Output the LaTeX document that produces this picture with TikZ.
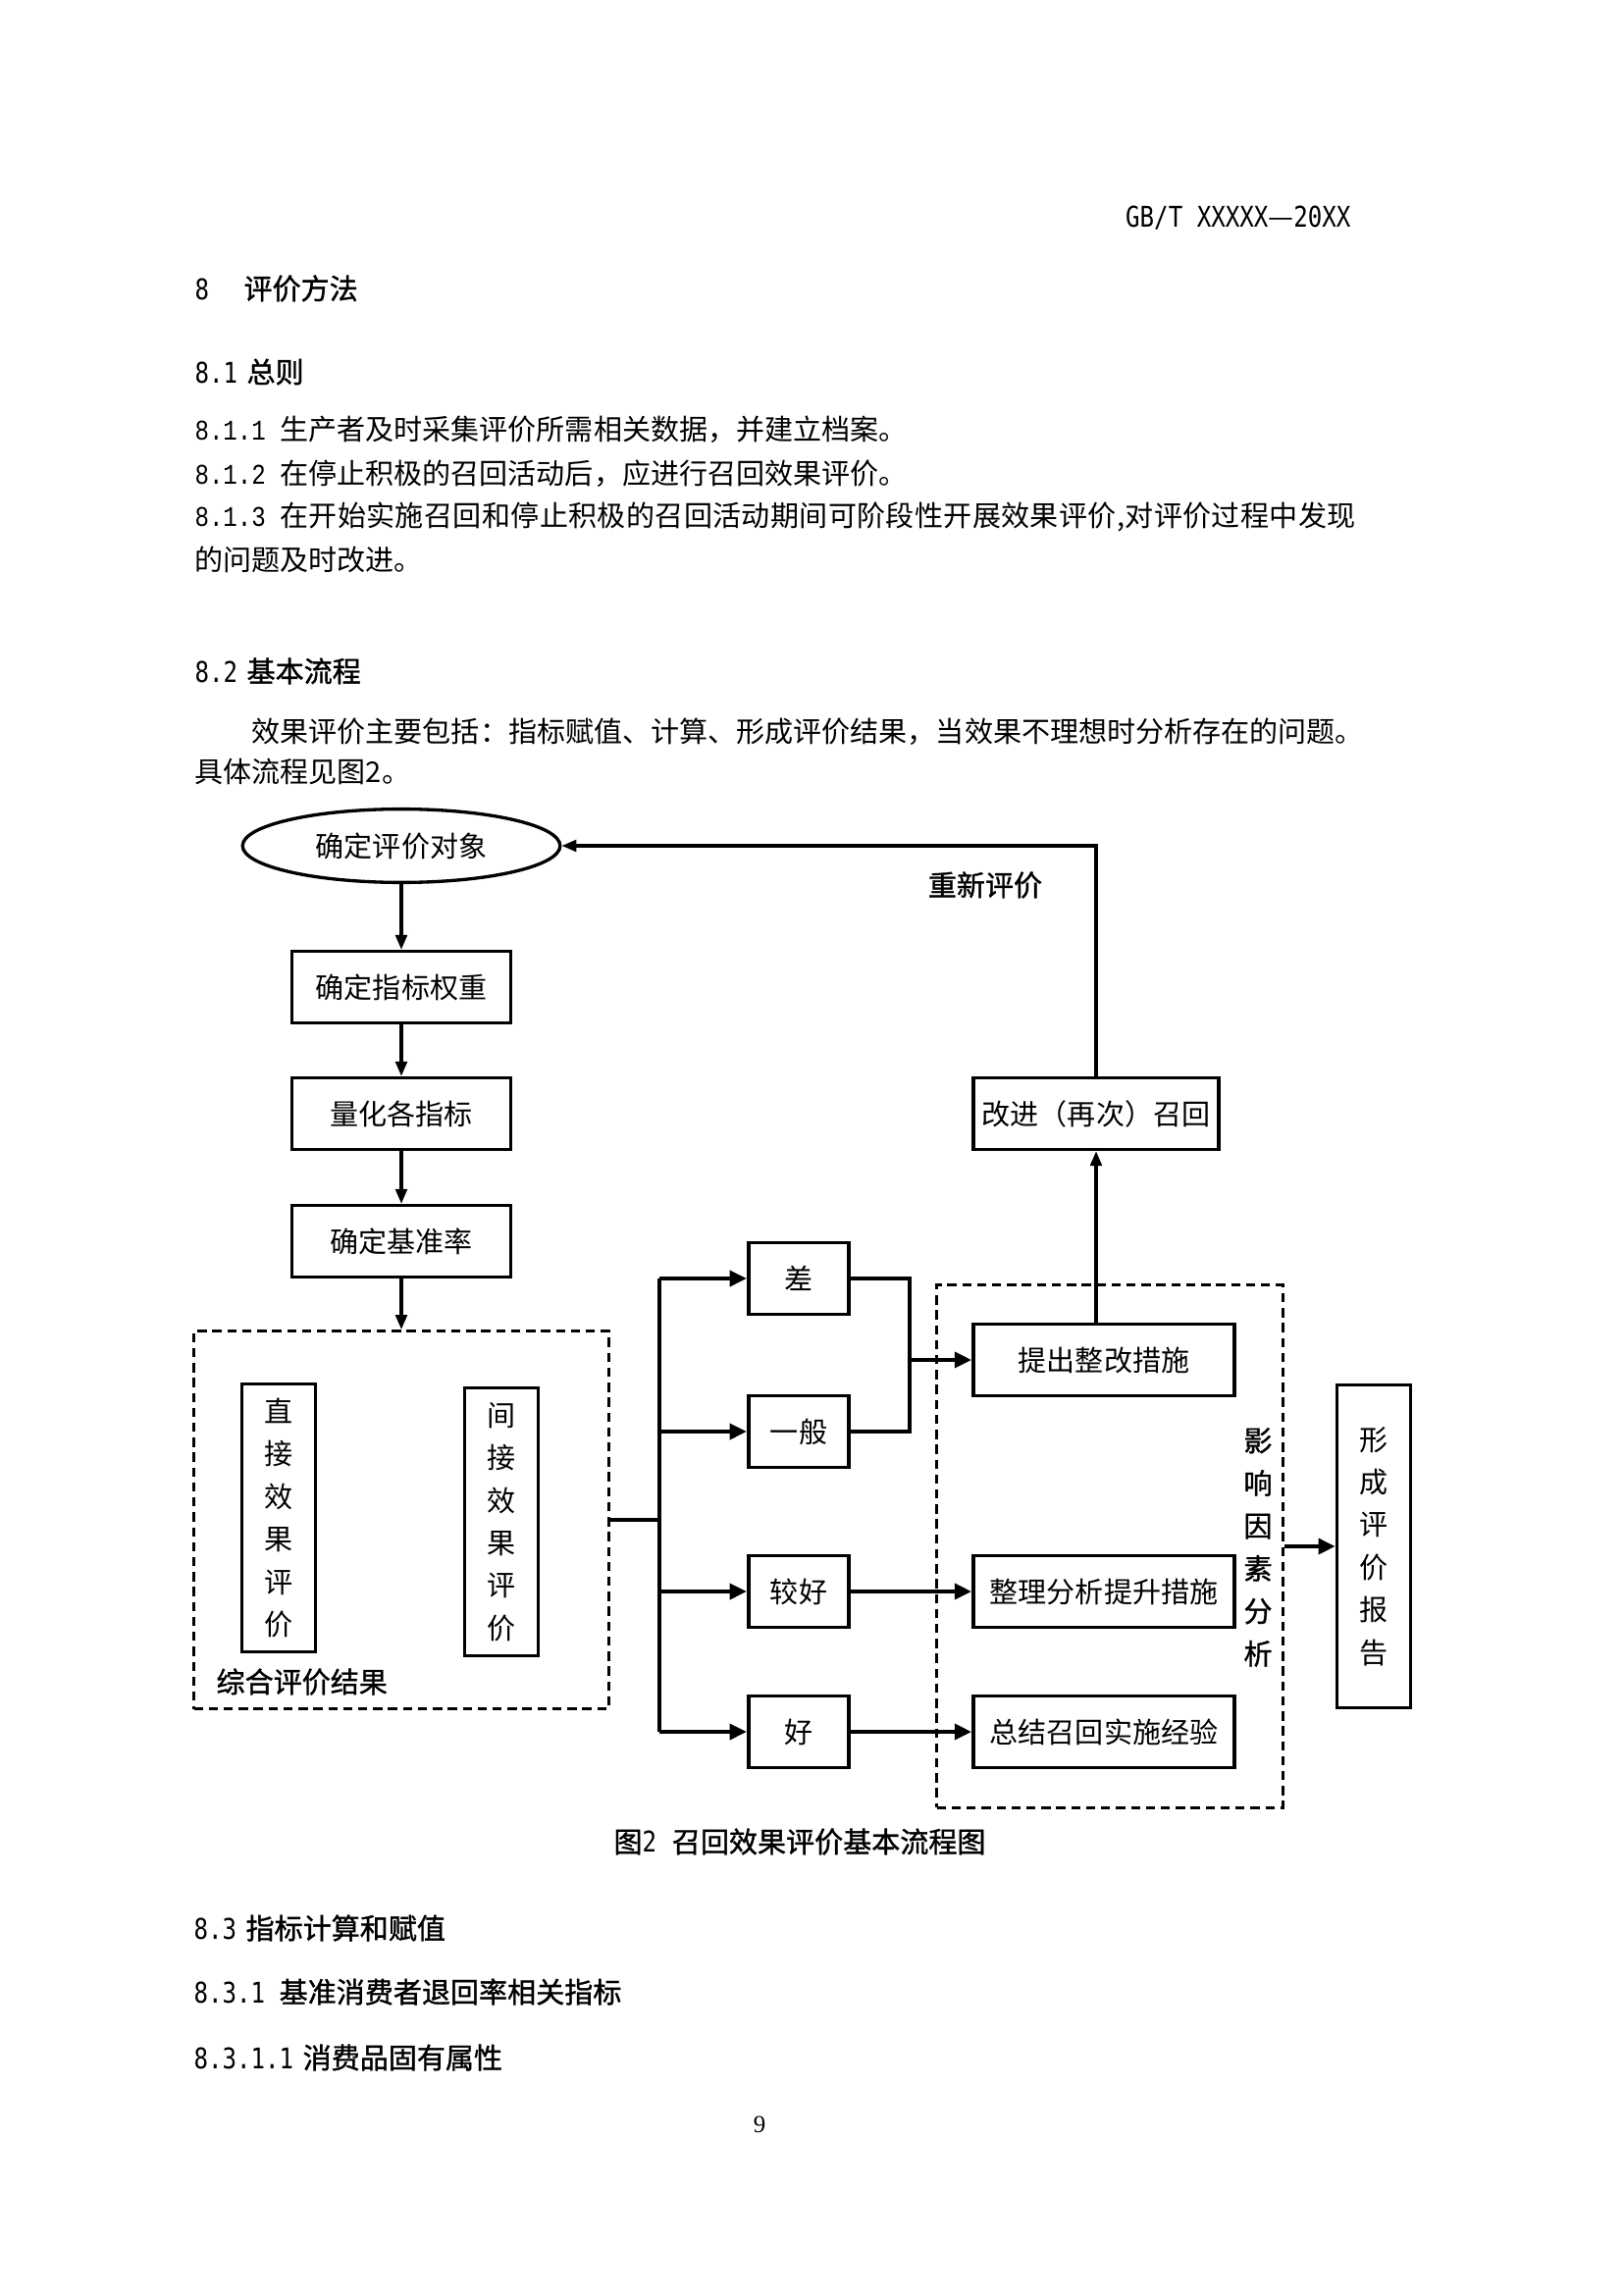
\documentclass[tikz,border=0pt]{standalone}
\usepackage{fontspec}
\setmainfont{Noto Sans CJK SC}
\newfontfamily\hei{Noto Sans CJK SC}[FakeBold=1.2]
\newfontfamily\spaced{Noto Sans CJK SC}[LetterSpace=1.2]
\newfontfamily\serifnum{Liberation Serif}
\newfontfamily\bnumfont{Liberation Mono}[FakeStretch=0.83]
\newfontfamily\hnumfont{DejaVu Sans Mono}[FakeStretch=0.83]
\newcommand{\bnum}[1]{{\bnumfont #1}}
\newcommand{\hnum}[1]{{\hnumfont #1}}
\usetikzlibrary{shapes, arrows.meta}

\begin{document}
\begin{tikzpicture}[x=0.127mm, y=-0.127mm, font=\fontsize{10.5}{12}\selectfont,
    txt/.style={anchor=west, inner sep=0pt},
    head/.style={anchor=west, inner sep=0pt, font=\fontsize{10.5}{12}\selectfont\hei},
    box/.style={draw, line width=1.3pt, rectangle, inner sep=0pt, minimum height=9.25mm},
    vbox/.style={draw, line width=1.3pt, rectangle, inner sep=0pt, minimum width=9.5mm, align=center, font=\fontsize{10.5}{15.7}\selectfont},
    dbox/.style={draw, line width=1.1pt, dash pattern=on 3.4pt off 2.1pt, rectangle, inner sep=0pt},
    thin/.style={line width=1.1pt, -{Triangle[length=1.9mm, width=1.5mm]}},
    heavy/.style={line width=1.5pt, -{Triangle[length=2.2mm, width=2mm]}}]
\useasboundingbox (0,0) rectangle (1654,2339);

\node[anchor=east, inner sep=0pt] (hdr) at (1377,222) {\hnum{GB/T XXXXX}—\hnum{20XX}};
\node[head] (h8) at (198,294) {\hnum{8}\hspace{4.5mm}评价方法};
\node[head] (h81) at (198,379) {\hnum{8.1}\hspace{1.2mm}总则};
\node[txt] (p811) at (198,438) {\bnum{8.1.1 }生产者及时采集评价所需相关数据，并建立档案。};
\node[txt] (p812) at (198,483) {\bnum{8.1.2 }在停止积极的召回活动后，应进行召回效果评价。};
\node[txt] (p813) at (198,527) {\bnum{8.1.3 }{\spaced 在开始实施召回和停止积极的召回活动期间可阶段性开展效果评价,对评价过程中发现}};
\node[txt] (p813b) at (198,570) {的问题及时改进。};
\node[head] (h82) at (198,684) {\hnum{8.2}\hspace{1.2mm}基本流程};
\node[txt] (p82) at (256,746) {效果评价主要包括：指标赋值、计算、形成评价结果，当效果不理想时分析存在的问题。};
\node[txt] (p82b) at (198,786) {具体流程见图2。};

\node[draw, ellipse, line width=1.2pt, minimum width=41.1mm, minimum height=9.5mm, inner sep=0pt] (obj) at (409,862) {确定评价对象};
\node[box, minimum width=28.3mm] (weight) at (409,1006) {确定指标权重};
\node[box, minimum width=28.3mm] (quant) at (409,1135) {量化各指标};
\node[box, minimum width=28.3mm] (base) at (409,1265) {确定基准率};

\node[dbox, minimum width=53.7mm, minimum height=48.9mm] (result) at (409,1549) {};
\node[vbox, minimum height=34.7mm] (direct) at (284,1547) {直\\接\\效\\果\\评\\价};
\node[vbox, minimum height=34.7mm] (indirect) at (511,1551) {间\\接\\效\\果\\评\\价};
\node[head] (resultlbl) at (220,1714) {综合评价结果};

\node[box, minimum width=13mm] (cha) at (814,1303) {差};
\node[box, minimum width=13mm] (yiban) at (814,1459) {一般};
\node[box, minimum width=13mm] (jiaohao) at (814,1622) {较好};
\node[box, minimum width=13mm] (hao) at (814,1765) {好};

\node[dbox, minimum width=44.8mm, minimum height=67.6mm] (factor) at (1131,1576) {};
\node[box, minimum width=33.8mm] (tichu) at (1125,1386) {提出整改措施};
\node[box, minimum width=33.8mm] (zhengli) at (1125,1622) {整理分析提升措施};
\node[box, minimum width=33.8mm] (zongjie) at (1125,1765) {总结召回实施经验};
\node[align=center, inner sep=0pt, font=\fontsize{10.5}{15.7}\selectfont\hei] (factorlbl) at (1282,1577) {影\\响\\因\\素\\分\\析};
\node[box, minimum width=31.8mm] (gaijin) at (1117,1135) {改进（再次）召回};
\node[head, anchor=center] (again) at (1004,902) {重新评价};

\node[vbox, minimum width=9.5mm, minimum height=41.8mm] (report) at (1400,1576) {形\\成\\评\\价\\报\\告};

\coordinate (tk) at (672,1549);
\coordinate (mg) at (927,1386);

\draw[thin] (obj) -- (weight);
\draw[thin] (weight) -- (quant);
\draw[thin] (quant) -- (base);
\draw[thin] (base.south) -- (base.south |- result.north);
\draw[line width=1.4pt] (result.east) -- (result.east -| tk);
\draw[line width=1.4pt] (tk |- cha) -- (tk |- hao);
\draw[heavy] (tk |- cha) -- (cha);
\draw[heavy] (tk |- yiban) -- (yiban);
\draw[heavy] (tk |- jiaohao) -- (jiaohao);
\draw[heavy] (tk |- hao) -- (hao);
\draw[line width=1.4pt] (cha.east) -- (cha.east -| mg) -- (yiban.east -| mg) -- (yiban.east);
\draw[heavy] (mg) -- (tichu.west);
\draw[heavy] (jiaohao) -- (zhengli);
\draw[heavy] (hao) -- (zongjie);
\draw[thin] (tichu.north -| gaijin.south) -- (gaijin.south);
\draw[thin] (gaijin.north) |- (obj.east);
\draw[heavy] (factor.east) -- (report.west);

\node[anchor=center, inner sep=0pt, font=\fontsize{10.5}{12}\selectfont\hei] (caption) at (815,1877) {图\hnum{2}\hspace{2mm}召回效果评价基本流程图};
\node[head] (h83) at (197,1965) {\hnum{8.3}\hspace{1.2mm}指标计算和赋值};
\node[head] (h831) at (197,2030) {\hnum{8.3.1 }基准消费者退回率相关指标};
\node[head] (h8311) at (197,2097) {\hnum{8.3.1.1}\hspace{1.2mm}消费品固有属性};
\node[inner sep=0pt, font=\serifnum\fontsize{9}{11}\selectfont] (pagenum) at (774,2165) {9};
\end{tikzpicture}
\end{document}
